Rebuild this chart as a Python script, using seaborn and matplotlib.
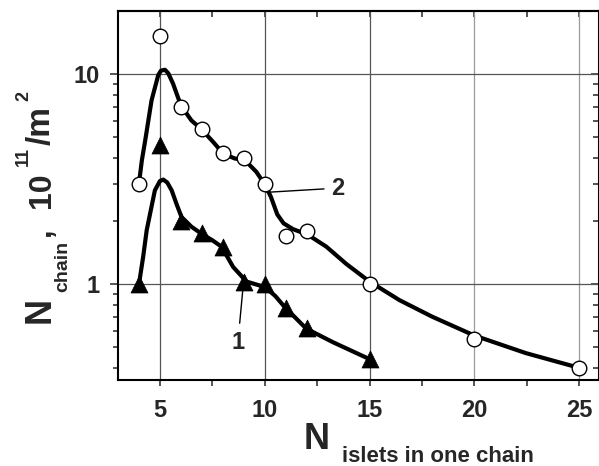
import numpy as np
import pandas as pd
import seaborn as sns
import matplotlib.pyplot as plt
from matplotlib.ticker import FixedLocator, NullFormatter, FixedFormatter

# measured points (open circles = curve 2, filled triangles = curve 1)
circ_x = [4, 5, 6, 7, 8, 9, 10, 11, 12, 15, 20, 25]
circ_y = [3.0, 15.2, 7.0, 5.5, 4.2, 4.0, 3.0, 1.7, 1.8, 1.0, 0.55, 0.40]
tri_x = [4, 5, 6, 7, 8, 9, 10, 11, 12, 15]
tri_y = [1.0, 4.6, 2.0, 1.75, 1.5, 1.02, 1.0, 0.77, 0.62, 0.44]

# smooth guide curves
curve2_x = [4.0, 4.14, 4.3, 4.6, 4.92, 5.05, 5.24, 5.4, 5.63, 6.0, 6.5, 7.0, 7.54, 8.02,
            8.57, 9.05, 9.6, 10.03, 10.3, 10.6, 10.9, 11.35, 12.06, 12.94, 13.89, 15.0,
            16.43, 18.0, 20.0, 22.46, 25.0]
curve2_y = [3.02, 3.9, 4.85, 7.5, 9.9, 10.4, 10.5, 10.1, 9.0, 7.1, 6.03, 5.45, 4.76, 4.19,
            3.97, 3.9, 3.43, 2.96, 2.6, 2.15, 1.95, 1.83, 1.72, 1.51, 1.25, 1.03,
            0.84, 0.70, 0.57, 0.47, 0.40]
curve1_x = [4.0, 4.2, 4.37, 4.76, 5.0, 5.16, 5.35, 5.56, 5.8, 6.03, 6.5, 6.98, 7.5, 7.94,
            8.49, 9.13, 10.0, 10.5, 10.95, 11.98, 13.25, 15.0]
curve1_y = [1.0, 1.35, 1.81, 2.8, 3.1, 3.15, 3.05, 2.8, 2.4, 2.09, 1.88, 1.74, 1.62, 1.51,
            1.21, 1.03, 0.97, 0.88, 0.78, 0.615, 0.53, 0.44]

x_ticks = [5, 10, 15, 20, 25]
y_ticks = [1, 10]
y_tick_labels = ["1", "10"]

sns.set_theme(style="white")
plt.rcParams["font.family"] = ["Liberation Sans", "DejaVu Sans"]
plt.rcParams["font.weight"] = "bold"

W, H = 599, 466
fig = plt.figure(figsize=(W / 100, H / 100), dpi=100)
ax = fig.add_axes([118 / W, 86 / H, (W - 118) / W, 369 / H])
ax.set_yscale("log")

sns.lineplot(x=curve2_x, y=curve2_y, ax=ax, color="black", lw=3, sort=False,
             estimator=None, zorder=3)
sns.lineplot(x=curve1_x, y=curve1_y, ax=ax, color="black", lw=3, sort=False,
             estimator=None, zorder=3)
sns.scatterplot(x=circ_x, y=circ_y, ax=ax, marker="o", s=110, facecolor="white",
                edgecolor="black", linewidth=1.0, zorder=4)
sns.scatterplot(x=tri_x, y=tri_y, ax=ax, marker="^", s=150, color="black",
                edgecolor="black", linewidth=0.5, zorder=4)

ax.set_xlim(3.0, 25.95)
ax.set_ylim(0.35, 20)

# ticks
minor_y = [0.4, 0.5, 0.6, 0.7, 0.8, 0.9, 2, 3, 4, 5, 6, 7, 8, 9]
ax.xaxis.set_major_locator(FixedLocator(x_ticks))
ax.xaxis.set_minor_locator(FixedLocator([7.5, 12.5, 17.5, 22.5]))
ax.yaxis.set_major_locator(FixedLocator(y_ticks))
ax.yaxis.set_major_formatter(FixedFormatter(y_tick_labels))
ax.yaxis.set_minor_locator(FixedLocator(minor_y))
ax.yaxis.set_minor_formatter(NullFormatter())
ax.tick_params(axis="x", which="both", direction="out", length=4, width=1.1,
               labelsize=17, pad=10, top=False, bottom=True)
ax.tick_params(axis="y", which="major", direction="out", length=6, width=1.1,
               labelsize=17, pad=7, left=True, right=False)
ax.tick_params(axis="y", which="minor", direction="out", length=3.5, width=1.1,
               left=True, right=False)
for lab in ax.get_xticklabels() + ax.get_yticklabels():
    lab.set_fontweight("bold")

top = ax.secondary_xaxis("top")
top.xaxis.set_major_locator(FixedLocator([5, 7.5, 10, 12.5, 15, 17.5, 20, 22.5, 25]))
top.tick_params(direction="in", length=4, width=1.1, labeltop=False)
top.spines["top"].set_linewidth(1.5)
right = ax.secondary_yaxis("right")
right.yaxis.set_major_locator(FixedLocator(y_ticks))
right.yaxis.set_minor_locator(FixedLocator(minor_y))
right.tick_params(which="major", direction="in", length=6, width=1.1, labelright=False)
right.tick_params(which="minor", direction="in", length=4, width=1.1, labelright=False)
right.yaxis.set_minor_formatter(NullFormatter())

for s in ax.spines.values():
    s.set_linewidth(1.5)
    s.set_color("black")

ax.grid(True, which="major", color="#555555", lw=0.9)
for t in ax.xaxis.get_major_ticks():
    if t.get_loc() >= 20:
        t.gridline.set_color("#9a9a9a")

# curve labels
ax.annotate("2", xy=(10.1, 2.74), xytext=(13.5, 2.87), fontsize=17, fontweight="bold",
            ha="center", va="center",
            arrowprops=dict(arrowstyle="-", lw=1, color="black", shrinkA=3, shrinkB=0))
ax.annotate("1", xy=(8.95, 0.93), xytext=(8.72, 0.53), fontsize=17, fontweight="bold",
            ha="center", va="center",
            arrowprops=dict(arrowstyle="-", lw=1, color="black", shrinkA=3, shrinkB=0))


def put(px, py, s, size, rot=0):
    fig.text(px / W, 1 - py / H, s, fontsize=size, fontweight="bold", rotation=rot,
             rotation_mode="anchor", ha="left", va="baseline")


# y axis title, rotated pieces
put(50, 323, "N", 26, 90)
put(67, 292, "chain", 14, 90)
put(50, 236, ",", 22, 90)
put(50, 208, "10", 23, 90)
put(28, 166, "11", 13, 90)
put(50, 145, "/m", 24, 90)
put(28, 101, "2", 13, 90)

# x axis title
put(304, 449, "N", 26)
put(342, 462, "islets in one chain", 16)

fig.savefig("out.png", dpi=100)
